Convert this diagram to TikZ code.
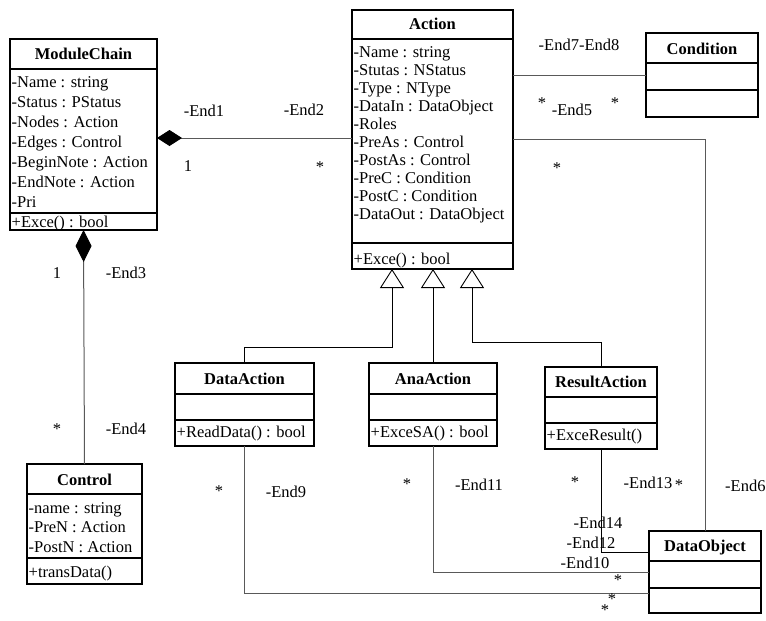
\documentclass[tikz,border=0pt]{standalone}
\usepackage{fontspec}
\setmainfont{Liberation Serif}
\usetikzlibrary{arrows.meta,calc}
\tikzset{
  box/.style={draw=black, line width=1.2pt, inner sep=0pt, outer sep=0pt, anchor=north west},
  divl/.style={draw=black, line width=1.2pt},
  ttl/.style={font=\fontsize{16.5}{18}\selectfont\bfseries, anchor=base, inner sep=0pt},
  txt/.style={font=\fontsize{16.5}{18}\selectfont, anchor=base west, inner sep=0pt},
  lbl/.style={font=\fontsize{16.5}{18}\selectfont, inner sep=0pt},
  conn/.style={draw=black!65, line width=1pt},
  gen/.style={draw=black, line width=0.9pt, -{Triangle[open, length=19pt, width=24pt, fill=white]}},
}
\newcommand\umlbox[9]{%
  \pgfmathsetmacro\bw{#4-#2}\pgfmathsetmacro\bh{#5-#3}%
  \node[box, minimum width=\bw pt, minimum height=\bh pt] (#1) at (#2,#3) {};
  \draw[divl] (#2,#6) -- (#4,#6);
  \draw[divl] (#2,#7) -- (#4,#7);
  \node[ttl] (#1-t) at ({(#2+#4)/2},#8) {#9};
}
\newcommand\umllines[5]{%
  \foreach \t [count=\i from 0] in {#5} {\node[txt] (#1-\i) at (#2, {#3+\i*#4}) {\t};}
}
\begin{document}
\begin{tikzpicture}[x=1pt,y=-1pt]
\useasboundingbox (0,0) rectangle (766,621);
% ---------- classes ----------
\umlbox{mc}{10}{39}{157}{230}{69}{213}{59}{ModuleChain}
\umllines{mc-a}{11.5}{87}{20}{-Name : string,-Status : PStatus,-Nodes : Action,-Edges : Control,-BeginNote : Action,-EndNote : Action,-Pri}
\umllines{mc-m}{11.5}{227.5}{20}{+Exce() : bool}

\umlbox{act}{352}{10}{513}{269}{39}{243}{29}{Action}
\umllines{act-a}{353.5}{57}{18}{-Name : string,-Stutas : NStatus,-Type : NType,-DataIn : DataObject,-Roles,-PreAs : Control,-PostAs : Control,-PreC : Condition,-PostC : Condition,-DataOut : DataObject}
\umllines{act-m}{353.5}{264}{18}{+Exce() : bool}

\umlbox{cond}{646}{33}{758}{117}{63}{90}{54}{Condition}

\umlbox{ctl}{27}{464}{142}{584}{494}{558}{485}{Control}
\umllines{ctl-a}{28.5}{513}{19.5}{-name : string,-PreN : Action,-PostN : Action}
\umllines{ctl-m}{28.5}{577}{18}{+transData()}

\umlbox{da}{175}{363}{314}{446}{394}{420}{384}{DataAction}
\umllines{da-m}{176.5}{437}{18}{+ReadData() : bool}

\umlbox{aa}{369}{363}{497}{446}{394}{420}{384}{AnaAction}
\umllines{aa-m}{370.5}{437}{18}{+ExceSA() : bool}

\umlbox{ra}{545}{367}{657}{449}{397}{423}{387}{ResultAction}
\umllines{ra-m}{546.5}{440}{18}{+ExceResult()}

\umlbox{dobj}{649}{531}{761}{613}{561}{588}{551}{DataObject}

% ---------- connectors ----------
\coordinate (mcA) at ($(mc.north east)+(0,99)$);
\draw[conn, {Diamond[length=25pt,width=16pt,color=black,fill=black]}-] (mcA) -- (mcA -| act.west);
\draw[conn, {Diamond[length=32pt,width=16pt,color=black,fill=black]}-] (mc.south) -- (ctl.north);
\draw[conn] (act.east |- cond.west) -- (cond.west);
\coordinate (actD) at ($(act.north east)+(0,129)$);
\draw[conn] (actD) -| (dobj.north);
\coordinate (doR) at ($(dobj.north west)+(0,21)$);
\coordinate (doA) at ($(dobj.north west)+(0,41)$);
\coordinate (doD) at ($(dobj.north west)+(0,62)$);
\draw[conn, draw=black] (ra.south) |- (doR);
\draw[conn] (aa.south) |- (doA);
\draw[conn] (da.south) |- (doD);

\coordinate (g1) at ($(act.south west)+(40,0)$);
\coordinate (g2) at ($(act.south west)+(80,0)$);
\coordinate (g3) at ($(act.south west)+(120,0)$);
\draw[gen] (da.north) -- ++(0,-16) -| (g1);
\draw[gen] (aa.north) -- (aa.north |- g2);
\draw[gen] (ra.north) -- ++(0,-25) -| (g3);

% ---------- labels ----------
\node[lbl] (l1) at (204,111) {-End1};
\node[lbl] (l2) at (188,166) {1};
\node[lbl] (l3) at (304,110) {-End2};
\node[lbl] (l4) at (320,167) {*};
\node[lbl] (l5) at (579,45) {-End7-End8};
\node[lbl] (l6) at (542,103) {*};
\node[lbl] (l7) at (572,110) {-End5};
\node[lbl] (l8) at (615,103) {*};
\node[lbl] (l9) at (557,168) {*};
\node[lbl] (l10) at (57,273) {1};
\node[lbl] (l11) at (126,273) {-End3};
\node[lbl] (l12) at (57,429) {*};
\node[lbl] (l13) at (126,429) {-End4};
\node[lbl] (l14) at (219,491) {*};
\node[lbl] (l15) at (286,492) {-End9};
\node[lbl] (l16) at (407,484) {*};
\node[lbl] (l17) at (479,485) {-End11};
\node[lbl] (l18) at (575,482) {*};
\node[lbl] (l19) at (648,483) {-End13};
\node[lbl] (l20) at (679,485) {*};
\node[lbl, anchor=west] (l21) at (725,486) {-End6};
\node[lbl] (l22) at (598,523) {-End14};
\node[lbl] (l23) at (591,543) {-End12};
\node[lbl] (l24) at (585,563) {-End10};
\node[lbl] (l25) at (618,580) {*};
\node[lbl] (l26) at (612,599) {*};
\node[lbl] (l27) at (605,610) {*};
\end{tikzpicture}
\end{document}
